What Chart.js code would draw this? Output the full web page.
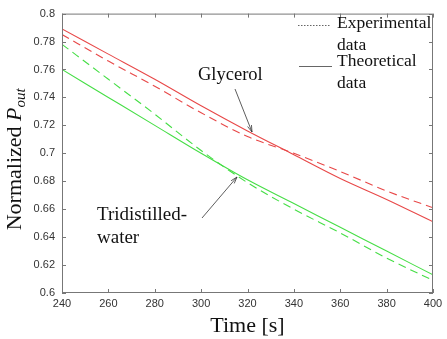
<!DOCTYPE html>
<html>
<head>
<meta charset="utf-8">
<script src="https://cdn.jsdelivr.net/npm/chart.js@4/dist/chart.umd.min.js"></script>
<style>
  html, body { margin: 0; padding: 0; background: #fff; }
  #wrap { width: 447px; height: 339px; }
</style>
</head>
<body>
<div id="wrap"><canvas id="myChart" width="447" height="339"></canvas></div>
<script>
// data
const timeValues = [240, 260, 280, 300, 320, 340, 360, 380, 400];
const glycerolExp = [0.785, 0.766, 0.748, 0.729, 0.712, 0.700, 0.687, 0.673, 0.661];
const glycerolTheo = [0.789, 0.771, 0.753, 0.734, 0.716, 0.699, 0.682, 0.667, 0.651];
const waterExp = [0.778, 0.753, 0.728, 0.702, 0.679, 0.660, 0.643, 0.625, 0.609];
const waterTheo = [0.760, 0.740, 0.720, 0.700, 0.681, 0.664, 0.647, 0.630, 0.613];
const xTicks = [240, 260, 280, 300, 320, 340, 360, 380, 400];
const yTicks = [0.6, 0.62, 0.64, 0.66, 0.68, 0.7, 0.72, 0.74, 0.76, 0.78, 0.8];

const red = 'rgb(232, 72, 72)';
const green = 'rgb(70, 222, 70)';
const axisGray = '#777';

function pts(ys) {
    return timeValues.map((t, i) => ({ x: t, y: ys[i] }));
}

function arrow(ctx, x1, y1, x2, y2) {
    ctx.save();
    ctx.strokeStyle = '#333';
    ctx.lineWidth = 0.8;
    ctx.beginPath();
    ctx.moveTo(x1, y1);
    ctx.lineTo(x2, y2);
    const a = Math.atan2(y2 - y1, x2 - x1);
    ctx.moveTo(x2, y2);
    ctx.lineTo(x2 - 7 * Math.cos(a - 0.3), y2 - 7 * Math.sin(a - 0.3));
    ctx.moveTo(x2, y2);
    ctx.lineTo(x2 - 7 * Math.cos(a + 0.3), y2 - 7 * Math.sin(a + 0.3));
    ctx.stroke();
    ctx.restore();
}

const decorations = {
    id: 'decorations',
    afterDraw(chart) {
        const ctx = chart.ctx;
        const area = chart.chartArea;
        const xs = chart.scales.x;
        const ys = chart.scales.y;
        ctx.save();
        // frame
        ctx.strokeStyle = axisGray;
        ctx.lineWidth = 1;
        ctx.strokeRect(area.left + 0.5, area.top + 0.5, area.right - area.left - 1, area.bottom - area.top - 1);
        // inward ticks on all sides
        ctx.beginPath();
        xTicks.forEach(v => {
            const px = Math.round(xs.getPixelForValue(v)) + 0.5;
            ctx.moveTo(px, area.bottom);
            ctx.lineTo(px, area.bottom - 4);
            ctx.moveTo(px, area.top);
            ctx.lineTo(px, area.top + 4);
        });
        yTicks.forEach(v => {
            const py = Math.round(ys.getPixelForValue(v)) + 0.5;
            ctx.moveTo(area.left, py);
            ctx.lineTo(area.left + 4, py);
            ctx.moveTo(area.right, py);
            ctx.lineTo(area.right - 4, py);
        });
        ctx.stroke();

        // legend
        ctx.fillStyle = '#111';
        ctx.font = '17.5px "Liberation Serif"';
        ctx.textBaseline = 'middle';
        ctx.textAlign = 'left';
        ctx.strokeStyle = '#666';
        ctx.lineWidth = 1;
        ctx.setLineDash([1.5, 1.5]);
        ctx.beginPath();
        ctx.moveTo(298, 25.5);
        ctx.lineTo(330, 25.5);
        ctx.stroke();
        ctx.setLineDash([]);
        ctx.beginPath();
        ctx.moveTo(299, 66.5);
        ctx.lineTo(332, 66.5);
        ctx.stroke();
        ctx.fillText('Experimental', 337, 23);
        ctx.fillText('data', 337, 45);
        ctx.fillText('Theoretical', 337, 61);
        ctx.fillText('data', 337, 83);

        // annotations
        ctx.font = '18.5px "Liberation Serif"';
        ctx.fillText('Glycerol', 198, 75);
        arrow(ctx, 235, 89, 252, 132);
        ctx.font = '19px "Liberation Serif"';
        ctx.fillText('Tridistilled-', 97, 215);
        ctx.fillText('water', 97, 238);
        arrow(ctx, 202, 218, 237, 177);

        // axis titles
        ctx.font = '22px "Liberation Serif"';
        ctx.textAlign = 'center';
        ctx.fillText('Time [s]', (area.left + area.right) / 2, 326);

        ctx.translate(15, (area.top + area.bottom) / 2 + 6);
        ctx.rotate(-Math.PI / 2);
        const mainTxt = 'Normalized ';
        ctx.font = '22px "Liberation Serif"';
        const w1 = ctx.measureText(mainTxt).width;
        ctx.font = 'italic 22px "Liberation Serif"';
        const w2 = ctx.measureText('P').width;
        ctx.font = 'italic 15px "Liberation Serif"';
        const w3 = ctx.measureText('out').width;
        const x0 = -(w1 + w2 + w3) / 2;
        ctx.textAlign = 'left';
        ctx.font = '22px "Liberation Serif"';
        ctx.fillText(mainTxt, x0, 0);
        ctx.font = 'italic 22px "Liberation Serif"';
        ctx.fillText('P', x0 + w1, 0);
        ctx.font = 'italic 15px "Liberation Serif"';
        ctx.fillText('out', x0 + w1 + w2, 6);
        ctx.restore();
    }
};

const ctx = document.getElementById('myChart');
new Chart(ctx, {
    type: 'line',
    data: {
        datasets: [
            { label: 'Glycerol experimental', data: pts(glycerolExp), borderColor: red, borderDash: [8, 5] },
            { label: 'Glycerol theoretical', data: pts(glycerolTheo), borderColor: red },
            { label: 'Water experimental', data: pts(waterExp), borderColor: green, borderDash: [8, 5] },
            { label: 'Water theoretical', data: pts(waterTheo), borderColor: green }
        ]
    },
    options: {
        responsive: false,
        animation: false,
        events: [],
        layout: { padding: { top: 8, right: 14, left: 0, bottom: 0 } },
        elements: {
            point: { radius: 0 },
            line: { borderWidth: 1.1, cubicInterpolationMode: 'monotone', fill: false }
        },
        plugins: {
            legend: { display: false },
            tooltip: { enabled: false }
        },
        scales: {
            x: {
                type: 'linear',
                min: 240,
                max: 400,
                afterBuildTicks: scale => { scale.ticks = xTicks.map(v => ({ value: v })); },
                grid: { display: false, drawTicks: false },
                border: { display: false },
                ticks: { color: '#333', font: { family: 'Liberation Sans', size: 11 }, padding: 4, maxRotation: 0 },
                afterFit: scale => { scale.height = 46; }
            },
            y: {
                min: 0.6,
                max: 0.8,
                afterBuildTicks: scale => { scale.ticks = yTicks.map(v => ({ value: v })); },
                grid: { display: false, drawTicks: false },
                border: { display: false },
                ticks: {
                    color: '#333',
                    font: { family: 'Liberation Sans', size: 11 },
                    padding: 7,
                    callback: v => String(+v.toFixed(2))
                },
                afterFit: scale => { scale.width = 62; }
            }
        }
    },
    plugins: [decorations]
});
</script>
</body>
</html>
